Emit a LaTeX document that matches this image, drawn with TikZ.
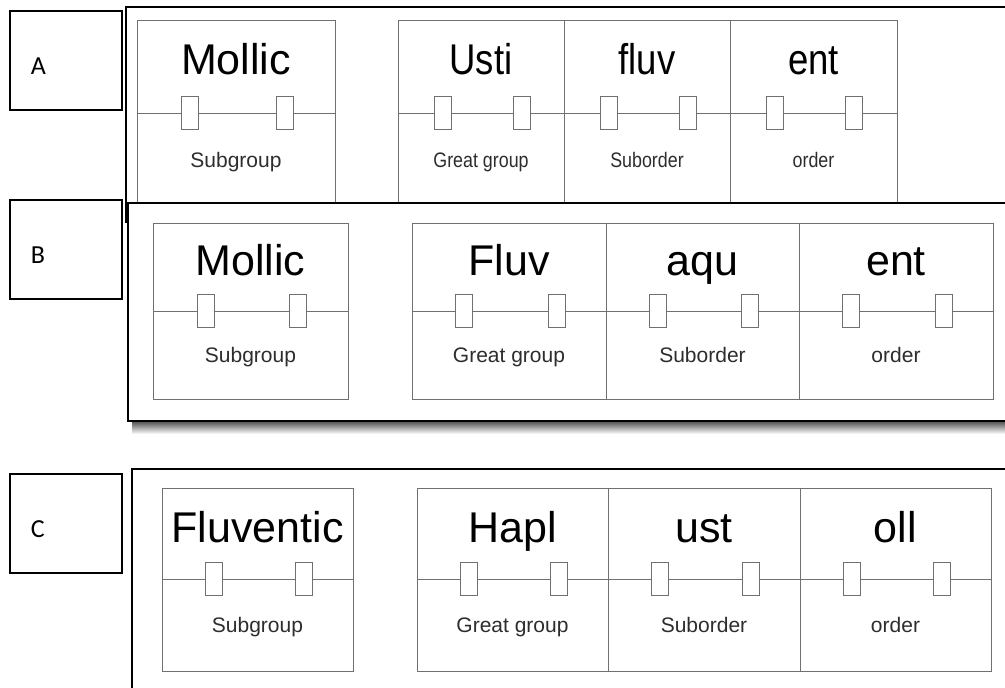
\documentclass[tikz,border=0pt]{standalone}
\usepackage{fontspec}
\usetikzlibrary{positioning,calc}
\newfontfamily\cellfont{Liberation Sans}
\newfontfamily\cellfontnarrow[FakeStretch=0.85]{Liberation Sans}
\newfontfamily\tagfont{Carlito}
\definecolor{boxgray}{RGB}{112,112,112}
\definecolor{namegray}{RGB}{45,45,45}
\tikzset{
  frame/.style={draw=black, line width=1.6pt},
  tagbox/.style={draw=black, line width=1.5pt, anchor=north west, inner xsep=21pt, inner ysep=0pt,
    text width=70pt, align=left, text height=64pt, text depth=35pt, font=\tagfont\fontsize{26pt}{26pt}\selectfont},
  wordcell/.style={draw=boxgray, line width=1pt, inner sep=0pt, outer sep=0pt, anchor=north west,
    font=\cellfont\fontsize{43pt}{43pt}\selectfont},
  namecell/.style={draw=boxgray, line width=1pt, inner sep=0pt, outer sep=0pt, text=namegray,
    font=\cellfont\fontsize{21pt}{21pt}\selectfont},
  narrowword/.style={font=\cellfontnarrow\fontsize{43pt}{43pt}\selectfont},
  narrowname/.style={font=\cellfontnarrow\fontsize{21pt}{21pt}\selectfont},
  atop/.style={wordcell, text height=54pt, text depth=39pt},
  abottom/.style={namecell, text height=54pt, text depth=43pt},
  btop/.style={wordcell, text height=52pt, text depth=36pt},
  bbottom/.style={namecell, text height=51pt, text depth=37pt},
  ctop/.style={wordcell, text height=54pt, text depth=37pt},
  cbottom/.style={namecell, text height=53pt, text depth=39pt},
  tab/.style={draw=boxgray, fill=white, line width=1pt, minimum width=17pt, minimum height=33pt, inner sep=0pt}
}
\begin{document}
\begin{tikzpicture}[x=1pt,y=-1pt]
\useasboundingbox (0,0) rectangle (1005,688);
\node[tagbox] (tagA) at (9,10) {A};
\node[tagbox] (tagB) at (9,199) {B};
\node[tagbox] (tagC) at (9,473) {C};

\draw[frame] (126,7) rectangle (1015,222);
\node[atop, minimum width=198pt] (aMollic) at (137,20) {Mollic};
\node[abottom, minimum width=198pt, below=0pt of aMollic] (aMollic-name) {Subgroup};
\node[atop, narrowword, minimum width=166pt] (aUsti) at (398,20) {Usti};
\node[abottom, narrowname, minimum width=166pt, below=0pt of aUsti] (aUsti-name) {Great group};
\node[atop, narrowword, minimum width=166pt] (afluv) at (564,20) {fluv};
\node[abottom, narrowname, minimum width=166pt, below=0pt of afluv] (afluv-name) {Suborder};
\node[atop, narrowword, minimum width=167pt] (aent) at (730,20) {ent};
\node[abottom, narrowname, minimum width=167pt, below=0pt of aent] (aent-name) {order};

\shade[top color=black!70, bottom color=white] (132,421) rectangle (1005,434);
\draw[frame, fill=white] (128,203) rectangle (1015,421);
\node[btop, minimum width=195pt] (bMollic) at (153,223) {Mollic};
\node[bbottom, minimum width=195pt, below=0pt of bMollic] (bMollic-name) {Subgroup};
\node[btop, minimum width=194pt] (bFluv) at (412,223) {Fluv};
\node[bbottom, minimum width=194pt, below=0pt of bFluv] (bFluv-name) {Great group};
\node[btop, minimum width=193pt] (baqu) at (606,223) {aqu};
\node[bbottom, minimum width=193pt, below=0pt of baqu] (baqu-name) {Suborder};
\node[btop, minimum width=194pt] (bent) at (799,223) {ent};
\node[bbottom, minimum width=194pt, below=0pt of bent] (bent-name) {order};

\draw[frame] (132,469) rectangle (1015,700);
\node[ctop, minimum width=191pt] (cFluventic) at (162,488) {Fluventic};
\node[cbottom, minimum width=191pt, below=0pt of cFluventic] (cFluventic-name) {Subgroup};
\node[ctop, minimum width=191pt] (cHapl) at (417,488) {Hapl};
\node[cbottom, minimum width=191pt, below=0pt of cHapl] (cHapl-name) {Great group};
\node[ctop, minimum width=192pt] (cust) at (608,488) {ust};
\node[cbottom, minimum width=192pt, below=0pt of cust] (cust-name) {Suborder};
\node[ctop, minimum width=191pt] (coll) at (800,488) {oll};
\node[cbottom, minimum width=191pt, below=0pt of coll] (coll-name) {order};

\foreach \c in {aMollic,aUsti,afluv,aent,bMollic,bFluv,baqu,bent,cFluventic,cHapl,cust,coll}{
  \node[tab] (\c-l) at ($(\c.south west)!0.27!(\c.south east)$) {};
  \node[tab] (\c-r) at ($(\c.south west)!0.745!(\c.south east)$) {};
}
\end{tikzpicture}
\end{document}
